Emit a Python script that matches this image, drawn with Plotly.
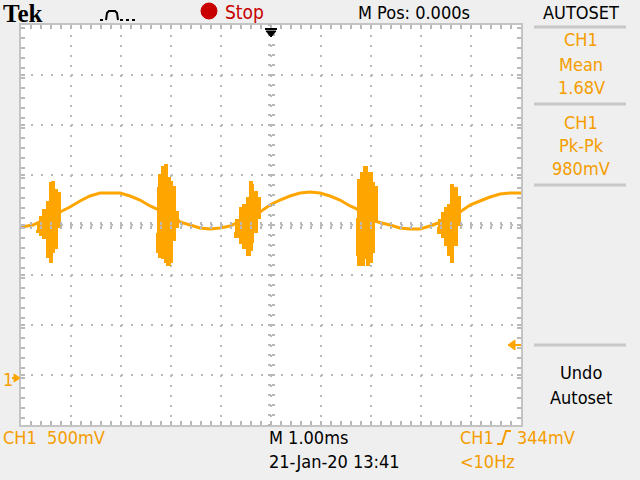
import plotly.graph_objects as go

sine_t = [-5.00, -4.76, -4.22, -4.02, -3.82, -3.62, -3.42, -3.22, -3.02, -2.82,
          -2.62, -2.42, -2.28, -1.86, -1.82, -1.62, -1.42, -1.22, -1.02, -0.82,
          -0.68, -0.22, -0.02, 0.18, 0.38, 0.58, 0.78, 0.98, 1.18, 1.38,
          1.58, 1.68, 2.14, 2.38, 2.58, 2.78, 2.98, 3.18, 3.34, 3.78,
          3.98, 4.18, 4.38, 4.58, 4.78, 5.00]
sine_v = [1.51, 1.53, 1.66, 1.71, 1.77, 1.82, 1.85, 1.85, 1.85, 1.82,
          1.78, 1.72, 1.69, 1.58, 1.56, 1.53, 1.50, 1.49, 1.50, 1.52,
          1.55, 1.66, 1.73, 1.78, 1.82, 1.85, 1.86, 1.85, 1.82, 1.78,
          1.72, 1.70, 1.56, 1.53, 1.50, 1.49, 1.49, 1.52, 1.55, 1.66,
          1.73, 1.77, 1.81, 1.84, 1.85, 1.85]

# пачки высокочастотных колебаний: время, верхняя и нижняя огибающие
burst1_t = [-4.68, -4.62, -4.56, -4.48, -4.42, -4.38, -4.34, -4.28, -4.22]
burst1_hi = [1.53, 1.61, 1.68, 1.76, 1.95, 1.96, 1.88, 1.85, 1.71]
burst1_lo = [1.48, 1.46, 1.43, 1.40, 1.21, 1.16, 1.26, 1.30, 1.51]

burst2_t = [-2.28, -2.24, -2.18, -2.12, -2.08, -2.02, -1.98, -1.92, -1.86]
burst2_hi = [1.90, 2.03, 2.11, 2.13, 2.00, 1.96, 1.91, 1.66, 1.61]
burst2_lo = [1.45, 1.26, 1.21, 1.20, 1.16, 1.13, 1.16, 1.38, 1.51]

burst3_t = [-0.72, -0.62, -0.56, -0.48, -0.42, -0.38, -0.36, -0.28, -0.22]
burst3_hi = [1.58, 1.70, 1.73, 1.80, 1.96, 1.93, 1.86, 1.80, 1.71]
burst3_lo = [1.46, 1.41, 1.35, 1.30, 1.23, 1.28, 1.36, 1.46, 1.60]

burst4_t = [1.72, 1.74, 1.80, 1.86, 1.92, 1.96, 2.02, 2.06, 2.12]
burst4_hi = [1.83, 1.98, 2.05, 2.11, 2.03, 2.05, 1.95, 1.91, 1.66]
burst4_lo = [1.60, 1.23, 1.13, 1.13, 1.20, 1.13, 1.16, 1.26, 1.56]

burst5_t = [3.34, 3.42, 3.48, 3.54, 3.60, 3.64, 3.72, 3.78]
burst5_hi = [1.58, 1.65, 1.70, 1.73, 1.93, 1.90, 1.81, 1.68]
burst5_lo = [1.51, 1.45, 1.41, 1.33, 1.23, 1.16, 1.33, 1.53]

bursts = [(burst1_t, burst1_hi, burst1_lo), (burst2_t, burst2_hi, burst2_lo),
          (burst3_t, burst3_hi, burst3_lo), (burst4_t, burst4_hi, burst4_lo),
          (burst5_t, burst5_hi, burst5_lo)]

# развертка и масштаб
t_div = 1.0          # мс/дел
v_div = 0.5          # В/дел
ground_div = -3.06   # положение нуля канала, дел от центра
v_center = -ground_div * v_div

TRACE = '#ffa500'
ORANGE = '#f59d00'
GRID = '#b9b9b9'
BG = '#efefef'
FONT = 'DejaVu Sans Condensed, Liberation Sans Narrow, Arial Narrow, sans-serif'

L, R, T, B = 21, 119, 25, 55
W, H = 640, 480
PW, PH = W - L - R, H - T - B


def px(x):
    return (x - L) / PW


def py(y):
    return (H - B - y) / PH


fig = go.Figure()

fig.add_trace(go.Scatter(
    x=sine_t, y=sine_v, mode='lines',
    line=dict(color=TRACE, width=3), hoverinfo='skip'
))

for bt, hi, lo in bursts:
    fig.add_trace(go.Scatter(
        x=bt + bt[::-1], y=hi + lo[::-1], mode='lines',
        fill='toself', fillcolor=TRACE,
        line=dict(color=TRACE, width=2, shape='hv'), hoverinfo='skip'
    ))

# пустые трассы для осей-перекрестия в центре экрана
fig.add_trace(go.Scatter(x=[None], y=[None], xaxis='x2', yaxis='y2', showlegend=False))
fig.add_trace(go.Scatter(x=[None], y=[None], xaxis='x3', yaxis='y3', showlegend=False))

x_range = [-5 * t_div, 5 * t_div]
y_range = [v_center - 4 * v_div, v_center + 4 * v_div]

axis_common = dict(showticklabels=False, zeroline=False, fixedrange=True)

fig.update_layout(
    width=W, height=H,
    margin=dict(l=L, r=R, t=T, b=B, pad=0),
    paper_bgcolor=BG, plot_bgcolor='white',
    showlegend=False,
    xaxis=dict(range=x_range, dtick=t_div, tick0=x_range[0],
               showgrid=True, gridcolor=GRID, gridwidth=2, griddash='2px,8px',
               showline=True, linecolor='#c4c4c4', linewidth=2, mirror='allticks',
               ticks='inside', ticklen=4, tickcolor=GRID, tickwidth=2,
               minor=dict(dtick=t_div / 5, ticks='inside', ticklen=4,
                          tickcolor=GRID, tickwidth=2, showgrid=False),
               layer='above traces', **axis_common),
    yaxis=dict(range=y_range, dtick=v_div, tick0=y_range[0],
               showgrid=True, gridcolor=GRID, gridwidth=2, griddash='2px,8px',
               showline=True, linecolor='#c4c4c4', linewidth=2, mirror='allticks',
               ticks='inside', ticklen=4, tickcolor=GRID, tickwidth=2,
               minor=dict(dtick=v_div / 5, ticks='inside', ticklen=4,
                          tickcolor=GRID, tickwidth=2, showgrid=False),
               layer='above traces', **axis_common),
    xaxis2=dict(overlaying='x', anchor='free', position=0.5, range=x_range,
                dtick=t_div / 5, tick0=x_range[0], ticks='inside', ticklen=3,
                tickcolor=GRID, tickwidth=2, showgrid=False, showline=False,
                layer='above traces', **axis_common),
    yaxis2=dict(overlaying='y', anchor='free', position=0.5, range=y_range,
                dtick=v_div / 5, tick0=y_range[0], ticks='inside', ticklen=3,
                tickcolor=GRID, tickwidth=2, showgrid=False, showline=False,
                layer='above traces', **axis_common),
    xaxis3=dict(overlaying='x', anchor='free', position=0.5, range=x_range,
                dtick=t_div / 5, tick0=x_range[0], ticks='outside', ticklen=3,
                tickcolor=GRID, tickwidth=2, showgrid=False, showline=False,
                layer='above traces', **axis_common),
    yaxis3=dict(overlaying='y', anchor='free', position=0.5, range=y_range,
                dtick=v_div / 5, tick0=y_range[0], ticks='outside', ticklen=3,
                tickcolor=GRID, tickwidth=2, showgrid=False, showline=False,
                layer='above traces', **axis_common),
)


def label(text, x, y, color='black', size=18, anchor='center', family=FONT):
    fig.add_annotation(text=text, x=px(x), y=py(y), xref='paper', yref='paper',
                       xanchor=anchor, yanchor='middle', showarrow=False,
                       borderpad=0, font=dict(family=family, size=size, color=color))


# верхняя строка
label('<b>Tek</b>', 2, 14, size=25, anchor='left', family='Liberation Serif, serif')
label('Stop', 224, 12, color='#c80000', size=19, anchor='left')
label('M Pos: 0.000s', 414, 12)
label('AUTOSET', 581, 12)

# правая панель
for text, y in [('CH1', 40), ('Mean', 64), ('1.68V', 88),
                ('CH1', 122), ('Pk-Pk', 145), ('980mV', 168)]:
    label(text, 581, y, color=ORANGE)
label('Undo', 581, 372)
label('Autoset', 581, 397)

# нижняя строка
label('CH1  500mV', 2, 437, color=ORANGE, anchor='left')
label('M 1.00ms', 268, 437, anchor='left')
label('21-Jan-20 13:41', 268, 461, anchor='left')
label('CH1', 459, 437, color=ORANGE, anchor='left')
label('344mV', 516, 437, color=ORANGE, anchor='left')
label('&lt;10Hz', 459, 461, color=ORANGE, anchor='left')
label('1', 2, 379, color=ORANGE, anchor='left')


def path(points, color, width=2, fill=None, dash='solid'):
    d = 'M ' + ' L '.join(f'{px(x):.4f},{py(y):.4f}' for x, y in points)
    if fill:
        d += ' Z'
    fig.add_shape(type='path', path=d, xref='paper', yref='paper',
                  line=dict(color=color, width=width, dash=dash),
                  fillcolor=fill, layer='above')


# разделители правой панели
for y in [27, 104, 185, 345]:
    path([(534, y), (626, y)], '#c8c8c8', width=3)

# красный индикатор Stop
fig.add_shape(type='circle', xref='paper', yref='paper',
              x0=px(201), x1=px(217), y0=py(19), y1=py(3),
              fillcolor='#c80000', line=dict(color='#c80000', width=1))

# значок импульса
path([(100, 20), (106, 20)], 'black', width=2, dash='dot')
path([(106, 20), (107, 13), (109, 11), (115, 11), (117, 13), (118, 20)], 'black', width=2)
path([(120, 20), (135, 20)], 'black', width=2, dash='dot')

# маркер позиции запуска сверху
path([(265, 29), (277, 29)], 'black', width=2)
path([(266, 31), (276, 31), (271, 37)], 'black', width=1, fill='black')

# уровень запуска справа
path([(514, 345), (521, 345)], TRACE, width=2)
path([(515, 340), (515, 350), (508, 345)], TRACE, width=1, fill=TRACE)

# маркер нуля канала слева
path([(12, 378), (15, 378)], TRACE, width=2)
path([(14, 374), (14, 382), (20, 378)], TRACE, width=1, fill=TRACE)

# символ фронта запуска
path([(497, 444), (502, 444), (506, 431), (511, 431)], ORANGE, width=2)

fig.write_html("out.html",
               config=dict(displayModeBar=False, staticPlot=True),
               post_script="document.body.style.margin='0';"
                           "document.body.style.overflow='hidden';")
